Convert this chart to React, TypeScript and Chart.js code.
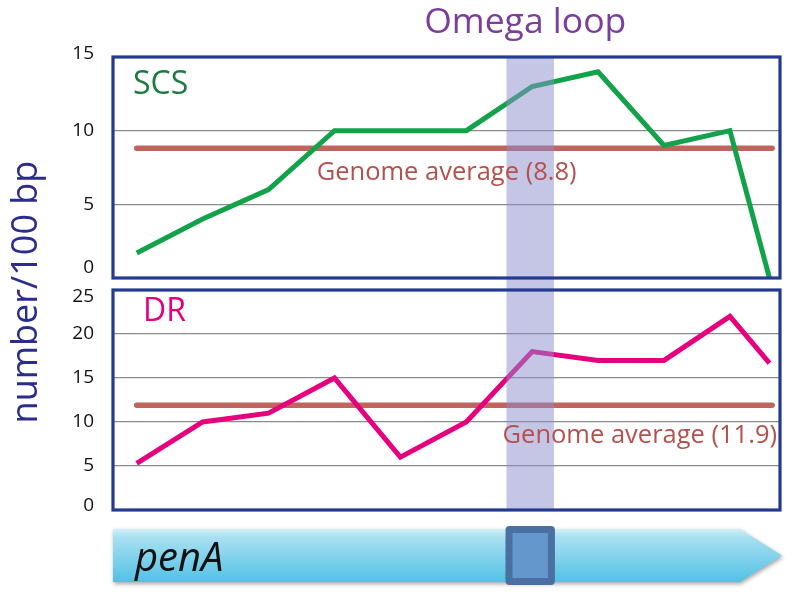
import React, { useEffect, useRef } from "react";
import { Chart, registerables } from "chart.js";

Chart.register(...registerables);

// ---- data ----
const positions = [0, 1, 2, 3, 4, 5, 6, 7, 8, 9, 9.6];
const scsValues = [1.7, 4, 6, 10, 10, 10, 13, 14, 9, 10, 0];
const drValues = [5.3, 10, 11, 15, 6, 10, 18, 17, 17, 22, 16.7];
const scsAverage = 8.8;
const drAverage = 11.9;
const averageSpan = [0, 9.64];
const omegaLoop = [5.61, 6.33];
const xRange = [-0.36, 9.76];
const scsTicks = [0, 5, 10, 15];
const drTicks = [0, 5, 10, 15, 20, 25];
const scsAverageLabel = "Genome average (8.8)";
const drAverageLabel = "Genome average (11.9)";

const W = 792;
const H = 596;
const FONT = "'Open Sans', 'Noto Sans', sans-serif";
const BOX_BLUE = "#233a90";
const AVG_COLOR = "rgba(186,78,72,0.88)";
const BAND_COLOR = "rgba(140,142,205,0.5)";

function makeOptions(ticks: number[], padTop: number, padBottom: number) {
  const max = ticks[ticks.length - 1];
  return {
    responsive: false,
    animation: false as const,
    events: [],
    layout: { padding: { top: padTop, bottom: padBottom, left: 0, right: 12 } },
    plugins: { legend: { display: false }, tooltip: { enabled: false }, title: { display: false } },
    scales: {
      x: { type: "linear" as const, min: xRange[0], max: xRange[1], display: false },
      y: {
        type: "linear" as const,
        min: 0,
        max,
        afterBuildTicks: (s: any) => {
          s.ticks = ticks.map((v) => ({ value: v }));
        },
        afterFit: (s: any) => {
          s.width = 113;
        },
        ticks: { display: false },
        grid: {
          drawTicks: false,
          lineWidth: 1.3,
          color: (c: any) =>
            c.tick && (c.tick.value === 0 || c.tick.value === max) ? "rgba(0,0,0,0)" : "#8a8a8a",
        },
        border: { display: false },
      },
    },
  };
}

// draws the y tick labels, pulling the two end labels slightly inward
function drawTickLabels(chart: any, nudgeLow: number, nudgeHigh: number) {
  const { ctx, chartArea: a, scales } = chart;
  const y = scales.y;
  const ticks = y.ticks;
  ctx.save();
  ctx.font = `19px ${FONT}`;
  ctx.fillStyle = "#111";
  ctx.textAlign = "right";
  ctx.textBaseline = "middle";
  ticks.forEach((t: any, i: number) => {
    let py = y.getPixelForValue(t.value);
    if (i === 0) py += nudgeLow;
    if (i === ticks.length - 1) py += nudgeHigh;
    ctx.fillText(String(t.value), a.left - 19, py);
  });
  ctx.restore();
}

function lineDatasets(values: number[], avg: number, color: string) {
  return [
    {
      data: positions.map((x, i) => ({ x, y: values[i] })),
      borderColor: color,
      borderWidth: 5,
      pointRadius: 0,
      tension: 0,
      clip: false as const,
      borderJoinStyle: "miter" as const,
      order: 1,
    },
    {
      data: averageSpan.map((x) => ({ x, y: avg })),
      borderColor: AVG_COLOR,
      borderWidth: 5.5,
      borderCapStyle: "round" as const,
      pointRadius: 0,
      clip: false as const,
      order: 2,
    },
  ];
}

function drawBox(ctx: CanvasRenderingContext2D, a: any) {
  ctx.save();
  ctx.strokeStyle = BOX_BLUE;
  ctx.lineWidth = 3.2;
  ctx.strokeRect(a.left, a.top, a.right - a.left, a.bottom - a.top);
  ctx.restore();
}

const scsPlugin = {
  id: "scsDecor",
  afterDatasetsDraw(chart: any) {
    const { ctx, chartArea: a, scales } = chart;
    const x = scales.x;
    const y = scales.y;
    const x0 = x.getPixelForValue(omegaLoop[0]);
    const x1 = x.getPixelForValue(omegaLoop[1]);
    ctx.save();
    ctx.fillStyle = BAND_COLOR;
    ctx.fillRect(x0, a.top, x1 - x0, a.bottom + 6 - a.top);
    ctx.restore();
    drawBox(ctx, a);
    drawTickLabels(chart, -10, -3);
    ctx.save();
    ctx.font = `32px ${FONT}`;
    ctx.fillStyle = "#1d7b3f";
    ctx.textBaseline = "middle";
    ctx.textAlign = "left";
    ctx.fillText("SCS", a.left + 20, a.top + 28);
    ctx.font = `25.5px ${FONT}`;
    ctx.fillStyle = "#b5514c";
    ctx.fillText(scsAverageLabel, x.getPixelForValue(2.73), y.getPixelForValue(scsAverage) + 24);
    ctx.font = `35.5px ${FONT}`;
    ctx.fillStyle = "#7a3e9b";
    ctx.textAlign = "center";
    ctx.fillText("Omega loop", (x0 + x1) / 2 - 5, 23);
    // y title spanning both panels
    ctx.translate(27, 292);
    ctx.rotate(-Math.PI / 2);
    ctx.font = `36px ${FONT}`;
    ctx.fillStyle = "#2b2d8d";
    ctx.fillText("number/100 bp", 0, 0);
    ctx.restore();
  },
};

const drPlugin = {
  id: "drDecor",
  afterDatasetsDraw(chart: any) {
    const { ctx, chartArea: a, scales } = chart;
    const x = scales.x;
    const y = scales.y;
    const x0 = x.getPixelForValue(omegaLoop[0]);
    const x1 = x.getPixelForValue(omegaLoop[1]);
    ctx.save();
    ctx.fillStyle = BAND_COLOR;
    ctx.fillRect(x0, a.top - 6, x1 - x0, a.bottom - a.top + 6);
    ctx.restore();
    drawBox(ctx, a);
    drawTickLabels(chart, -4, 7);
    ctx.save();
    ctx.font = `32px ${FONT}`;
    ctx.fillStyle = "#e5007d";
    ctx.textBaseline = "middle";
    ctx.textAlign = "left";
    ctx.fillText("DR", a.left + 30, a.top + 22);
    ctx.font = `25.5px ${FONT}`;
    ctx.fillStyle = "#b5514c";
    ctx.fillText(drAverageLabel, x.getPixelForValue(5.55), y.getPixelForValue(drAverage) + 30);

    // penA gene arrow
    const top = a.bottom + 19;
    const bot = a.bottom + 72;
    const left = a.left;
    const headStart = x.getPixelForValue(9.15);
    const tip = a.right + 2;
    ctx.save();
    ctx.shadowColor = "rgba(0,0,0,0.35)";
    ctx.shadowBlur = 4;
    ctx.shadowOffsetX = 1;
    ctx.shadowOffsetY = 2;
    const g = ctx.createLinearGradient(0, top, 0, bot);
    g.addColorStop(0, "#d2f0f8");
    g.addColorStop(0.15, "#a9e0f1");
    g.addColorStop(1, "#52c1e5");
    ctx.fillStyle = g;
    ctx.beginPath();
    ctx.moveTo(left, top);
    ctx.lineTo(headStart, top);
    ctx.lineTo(tip, (top + bot) / 2);
    ctx.lineTo(headStart, bot);
    ctx.lineTo(left, bot);
    ctx.closePath();
    ctx.fill();
    ctx.restore();

    // omega loop box on gene
    const bx0 = x0 - 1;
    const bx1 = x1 + 1;
    ctx.save();
    ctx.fillStyle = "#4a70a2";
    ctx.beginPath();
    (ctx as any).roundRect(bx0, top - 3, bx1 - bx0, bot - top + 6, 4);
    ctx.fill();
    ctx.fillStyle = "#6497cc";
    ctx.fillRect(bx0 + 7, top + 4, bx1 - bx0 - 14, bot - top - 8);
    ctx.restore();

    ctx.save();
    ctx.font = `italic 40px ${FONT}`;
    ctx.fillStyle = "#111";
    ctx.textBaseline = "alphabetic";
    ctx.textAlign = "left";
    ctx.fillText("penA", left + 22, bot - 11);
    ctx.restore();
    ctx.restore();
  },
};

export default function App() {
  const topRef = useRef<HTMLCanvasElement>(null);
  const botRef = useRef<HTMLCanvasElement>(null);

  useEffect(() => {
    const c1 = new Chart(topRef.current as HTMLCanvasElement, {
      type: "line",
      data: { datasets: lineDatasets(scsValues, scsAverage, "#12a24a") as any },
      options: makeOptions(scsTicks, 57, H - 278) as any,
      plugins: [scsPlugin],
    });
    const c2 = new Chart(botRef.current as HTMLCanvasElement, {
      type: "line",
      data: { datasets: lineDatasets(drValues, drAverage, "#e6007e") as any },
      options: makeOptions(drTicks, 290, H - 510) as any,
      plugins: [drPlugin],
    });
    return () => {
      c1.destroy();
      c2.destroy();
    };
  }, []);

  const style: React.CSSProperties = { position: "absolute", left: 0, top: 0 };
  return (
    <div style={{ position: "fixed", left: 0, top: 0, width: W, height: H, background: "#fff" }}>
      <canvas ref={topRef} width={W} height={H} style={style} />
      <canvas ref={botRef} width={W} height={H} style={style} />
    </div>
  );
}
